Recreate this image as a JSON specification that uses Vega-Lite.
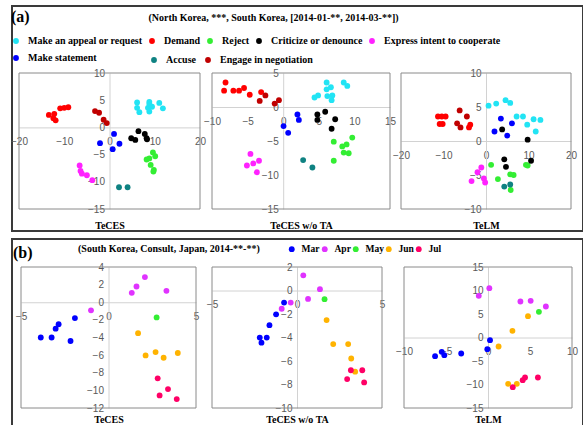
{
  "$schema": "https://vega.github.io/schema/vega-lite/v6.json",
  "background": "white",
  "padding": {"left": 9, "top": 5, "right": 0, "bottom": 0},
  "spacing": 6,
  "resolve": {"scale": {"color": "independent", "fill": "independent"}, "legend": {"color": "independent", "fill": "independent"}},
  "config": {
    "view": {"stroke": "#3a3a3a", "strokeWidth": 2},
    "axis": {
      "grid": false, "ticks": false, "domainColor": "#d2d2d2", "domainWidth": 1,
      "labelFont": "Liberation Sans", "labelFontSize": 10, "labelColor": "#595959",
      "labelFlush": false, "labelOverlap": false,
      "titleFont": "Liberation Serif", "titleFontSize": 10, "titleFontWeight": "bold", "titleColor": "#000000"
    },
    "axisX": {"labelPadding": 9},
    "axisY": {"labelPadding": 5},
    "legend": {
      "labelFont": "Liberation Serif", "labelFontWeight": "bold", "labelFontSize": 10, "labelColor": "#000000",
      "titleFont": "Liberation Serif", "titleFontWeight": "bold", "titleColor": "#000000",
      "symbolType": "circle", "symbolSize": 34, "symbolStrokeWidth": 0, "padding": 0
    },
    "point": {"filled": true, "size": 34, "opacity": 1},
    "rect": {"filled": false, "stroke": "#8a8a8a", "strokeWidth": 1},
    "title": {"font": "Liberation Serif", "fontWeight": "bold", "color": "#000000", "frame": "group"}
  },
  "datasets": {
    "a": [
      {"panel": "TeCES", "cat": "Make an appeal or request", "x": 6.1, "y": 4.6},
      {"panel": "TeCES", "cat": "Make an appeal or request", "x": 6.1, "y": 3.6},
      {"panel": "TeCES", "cat": "Make an appeal or request", "x": 6.6, "y": 2.8},
      {"panel": "TeCES", "cat": "Make an appeal or request", "x": 8.5, "y": 3.6},
      {"panel": "TeCES", "cat": "Make an appeal or request", "x": 8.8, "y": 4.7},
      {"panel": "TeCES", "cat": "Make an appeal or request", "x": 8.8, "y": 4.3},
      {"panel": "TeCES", "cat": "Make an appeal or request", "x": 8.8, "y": 2.9},
      {"panel": "TeCES", "cat": "Make an appeal or request", "x": 9.4, "y": 3.8},
      {"panel": "TeCES", "cat": "Make an appeal or request", "x": 11.0, "y": 4.5},
      {"panel": "TeCES", "cat": "Make an appeal or request", "x": 11.8, "y": 3.5},
      {"panel": "TeCES", "cat": "Demand", "x": -13.4, "y": 2.3},
      {"panel": "TeCES", "cat": "Demand", "x": -12.2, "y": 2.5},
      {"panel": "TeCES", "cat": "Demand", "x": -12.4, "y": 1.7},
      {"panel": "TeCES", "cat": "Demand", "x": -11.9, "y": 1.3},
      {"panel": "TeCES", "cat": "Demand", "x": -10.9, "y": 3.5},
      {"panel": "TeCES", "cat": "Demand", "x": -10.0, "y": 3.6},
      {"panel": "TeCES", "cat": "Demand", "x": -9.1, "y": 3.7},
      {"panel": "TeCES", "cat": "Reject", "x": 9.6, "y": -4.6},
      {"panel": "TeCES", "cat": "Reject", "x": 10.1, "y": -5.3},
      {"panel": "TeCES", "cat": "Reject", "x": 8.8, "y": -5.7},
      {"panel": "TeCES", "cat": "Reject", "x": 8.2, "y": -5.9},
      {"panel": "TeCES", "cat": "Reject", "x": 9.1, "y": -6.9},
      {"panel": "TeCES", "cat": "Reject", "x": 9.8, "y": -7.8},
      {"panel": "TeCES", "cat": "Reject", "x": 9.7, "y": -8.1},
      {"panel": "TeCES", "cat": "Criticize or denounce", "x": 6.4, "y": -0.7},
      {"panel": "TeCES", "cat": "Criticize or denounce", "x": 4.8, "y": -2.0},
      {"panel": "TeCES", "cat": "Criticize or denounce", "x": 5.7, "y": -2.3},
      {"panel": "TeCES", "cat": "Criticize or denounce", "x": 7.8, "y": -1.2},
      {"panel": "TeCES", "cat": "Criticize or denounce", "x": 8.2, "y": -2.0},
      {"panel": "TeCES", "cat": "Criticize or denounce", "x": 8.3, "y": -2.2},
      {"panel": "TeCES", "cat": "Express intent to cooperate", "x": -6.6, "y": -7.0},
      {"panel": "TeCES", "cat": "Express intent to cooperate", "x": -6.4, "y": -8.0},
      {"panel": "TeCES", "cat": "Express intent to cooperate", "x": -6.1, "y": -8.5},
      {"panel": "TeCES", "cat": "Express intent to cooperate", "x": -5.0, "y": -8.8},
      {"panel": "TeCES", "cat": "Express intent to cooperate", "x": -3.8, "y": -9.7},
      {"panel": "TeCES", "cat": "Make statement", "x": 1.0, "y": -1.2},
      {"panel": "TeCES", "cat": "Make statement", "x": -2.1, "y": -2.9},
      {"panel": "TeCES", "cat": "Make statement", "x": 2.2, "y": -3.0},
      {"panel": "TeCES", "cat": "Make statement", "x": 0.7, "y": -4.0},
      {"panel": "TeCES", "cat": "Accuse", "x": 2.1, "y": -11.0},
      {"panel": "TeCES", "cat": "Accuse", "x": 4.0, "y": -11.0},
      {"panel": "TeCES", "cat": "Engage in negotiation", "x": -3.2, "y": 3.0},
      {"panel": "TeCES", "cat": "Engage in negotiation", "x": -2.3, "y": 2.7},
      {"panel": "TeCES", "cat": "Engage in negotiation", "x": -1.3, "y": 1.4},
      {"panel": "TeCES", "cat": "Engage in negotiation", "x": -0.6, "y": 0.8},

      {"panel": "TeCES w/o TA", "cat": "Make an appeal or request", "x": 6.1, "y": 3.6},
      {"panel": "TeCES w/o TA", "cat": "Make an appeal or request", "x": 6.1, "y": 2.6},
      {"panel": "TeCES w/o TA", "cat": "Make an appeal or request", "x": 6.7, "y": 2.9},
      {"panel": "TeCES w/o TA", "cat": "Make an appeal or request", "x": 6.2, "y": 1.6},
      {"panel": "TeCES w/o TA", "cat": "Make an appeal or request", "x": 4.9, "y": 1.7},
      {"panel": "TeCES w/o TA", "cat": "Make an appeal or request", "x": 4.4, "y": 1.4},
      {"panel": "TeCES w/o TA", "cat": "Make an appeal or request", "x": 6.9, "y": 1.7},
      {"panel": "TeCES w/o TA", "cat": "Make an appeal or request", "x": 6.8, "y": 1.0},
      {"panel": "TeCES w/o TA", "cat": "Make an appeal or request", "x": 8.5, "y": 3.6},
      {"panel": "TeCES w/o TA", "cat": "Make an appeal or request", "x": 9.0, "y": 3.1},
      {"panel": "TeCES w/o TA", "cat": "Demand", "x": -8.1, "y": 3.6},
      {"panel": "TeCES w/o TA", "cat": "Demand", "x": -8.3, "y": 2.4},
      {"panel": "TeCES w/o TA", "cat": "Demand", "x": -7.0, "y": 2.4},
      {"panel": "TeCES w/o TA", "cat": "Demand", "x": -6.2, "y": 2.4},
      {"panel": "TeCES w/o TA", "cat": "Demand", "x": -5.5, "y": 2.8},
      {"panel": "TeCES w/o TA", "cat": "Demand", "x": -4.7, "y": 1.8},
      {"panel": "TeCES w/o TA", "cat": "Demand", "x": -3.1, "y": 2.2},
      {"panel": "TeCES w/o TA", "cat": "Reject", "x": 7.1, "y": -5.1},
      {"panel": "TeCES w/o TA", "cat": "Reject", "x": 8.3, "y": -5.8},
      {"panel": "TeCES w/o TA", "cat": "Reject", "x": 8.9, "y": -5.5},
      {"panel": "TeCES w/o TA", "cat": "Reject", "x": 9.7, "y": -4.5},
      {"panel": "TeCES w/o TA", "cat": "Reject", "x": 8.5, "y": -6.7},
      {"panel": "TeCES w/o TA", "cat": "Reject", "x": 9.2, "y": -6.8},
      {"panel": "TeCES w/o TA", "cat": "Reject", "x": 7.1, "y": -7.9},
      {"panel": "TeCES w/o TA", "cat": "Criticize or denounce", "x": 4.8, "y": -1.1},
      {"panel": "TeCES w/o TA", "cat": "Criticize or denounce", "x": 4.8, "y": -1.9},
      {"panel": "TeCES w/o TA", "cat": "Criticize or denounce", "x": 5.9, "y": -0.7},
      {"panel": "TeCES w/o TA", "cat": "Criticize or denounce", "x": 7.3, "y": -1.8},
      {"panel": "TeCES w/o TA", "cat": "Criticize or denounce", "x": 6.8, "y": -3.2},
      {"panel": "TeCES w/o TA", "cat": "Express intent to cooperate", "x": -4.6, "y": -6.9},
      {"panel": "TeCES w/o TA", "cat": "Express intent to cooperate", "x": -5.1, "y": -8.6},
      {"panel": "TeCES w/o TA", "cat": "Express intent to cooperate", "x": -4.2, "y": -8.3},
      {"panel": "TeCES w/o TA", "cat": "Express intent to cooperate", "x": -3.4, "y": -7.9},
      {"panel": "TeCES w/o TA", "cat": "Express intent to cooperate", "x": -3.7, "y": -9.6},
      {"panel": "TeCES w/o TA", "cat": "Make statement", "x": 2.0, "y": -1.1},
      {"panel": "TeCES w/o TA", "cat": "Make statement", "x": 2.2, "y": -1.9},
      {"panel": "TeCES w/o TA", "cat": "Make statement", "x": 0.05, "y": -2.8},
      {"panel": "TeCES w/o TA", "cat": "Make statement", "x": 0.7, "y": -3.8},
      {"panel": "TeCES w/o TA", "cat": "Accuse", "x": 2.8, "y": -7.8},
      {"panel": "TeCES w/o TA", "cat": "Accuse", "x": 4.1, "y": -8.9},
      {"panel": "TeCES w/o TA", "cat": "Engage in negotiation", "x": -2.5, "y": 1.7},
      {"panel": "TeCES w/o TA", "cat": "Engage in negotiation", "x": -3.3, "y": 0.9},
      {"panel": "TeCES w/o TA", "cat": "Engage in negotiation", "x": -1.2, "y": 0.5},
      {"panel": "TeCES w/o TA", "cat": "Engage in negotiation", "x": -0.6, "y": 1.0},

      {"panel": "TeLM", "cat": "Make an appeal or request", "x": 0.6, "y": 5.2},
      {"panel": "TeLM", "cat": "Make an appeal or request", "x": 2.4, "y": 5.5},
      {"panel": "TeLM", "cat": "Make an appeal or request", "x": 4.6, "y": 6.0},
      {"panel": "TeLM", "cat": "Make an appeal or request", "x": 5.7, "y": 5.6},
      {"panel": "TeLM", "cat": "Make an appeal or request", "x": 7.2, "y": 3.6},
      {"panel": "TeLM", "cat": "Make an appeal or request", "x": 8.7, "y": 3.6},
      {"panel": "TeLM", "cat": "Make an appeal or request", "x": 9.7, "y": 2.4},
      {"panel": "TeLM", "cat": "Make an appeal or request", "x": 11.2, "y": 3.2},
      {"panel": "TeLM", "cat": "Make an appeal or request", "x": 12.8, "y": 3.1},
      {"panel": "TeLM", "cat": "Make an appeal or request", "x": 11.7, "y": 1.4},
      {"panel": "TeLM", "cat": "Demand", "x": -11.3, "y": 3.6},
      {"panel": "TeLM", "cat": "Demand", "x": -10.4, "y": 3.6},
      {"panel": "TeLM", "cat": "Demand", "x": -9.5, "y": 3.6},
      {"panel": "TeLM", "cat": "Demand", "x": -10.9, "y": 2.5},
      {"panel": "TeLM", "cat": "Demand", "x": -10.2, "y": 2.5},
      {"panel": "TeLM", "cat": "Demand", "x": -3.7, "y": 2.4},
      {"panel": "TeLM", "cat": "Demand", "x": -4.0, "y": 2.0},
      {"panel": "TeLM", "cat": "Reject", "x": 1.2, "y": -3.5},
      {"panel": "TeLM", "cat": "Reject", "x": 2.8, "y": -5.6},
      {"panel": "TeLM", "cat": "Reject", "x": 5.7, "y": -4.9},
      {"panel": "TeLM", "cat": "Reject", "x": 6.5, "y": -5.0},
      {"panel": "TeLM", "cat": "Reject", "x": 9.4, "y": -3.5},
      {"panel": "TeLM", "cat": "Reject", "x": 9.8, "y": -3.6},
      {"panel": "TeLM", "cat": "Reject", "x": 5.8, "y": -7.2},
      {"panel": "TeLM", "cat": "Criticize or denounce", "x": 3.8, "y": 1.7},
      {"panel": "TeLM", "cat": "Criticize or denounce", "x": 9.8, "y": 0.2},
      {"panel": "TeLM", "cat": "Criticize or denounce", "x": 4.3, "y": -2.7},
      {"panel": "TeLM", "cat": "Criticize or denounce", "x": 4.7, "y": -3.8},
      {"panel": "TeLM", "cat": "Criticize or denounce", "x": 10.6, "y": -2.9},
      {"panel": "TeLM", "cat": "Express intent to cooperate", "x": -1.1, "y": -3.9},
      {"panel": "TeLM", "cat": "Express intent to cooperate", "x": -2.0, "y": -4.6},
      {"panel": "TeLM", "cat": "Express intent to cooperate", "x": -3.4, "y": -5.9},
      {"panel": "TeLM", "cat": "Express intent to cooperate", "x": -0.5, "y": -5.5},
      {"panel": "TeLM", "cat": "Express intent to cooperate", "x": -0.2, "y": -6.1},
      {"panel": "TeLM", "cat": "Make statement", "x": 3.5, "y": 3.3},
      {"panel": "TeLM", "cat": "Make statement", "x": 6.1, "y": 2.6},
      {"panel": "TeLM", "cat": "Make statement", "x": 2.0, "y": 1.4},
      {"panel": "TeLM", "cat": "Make statement", "x": 5.0, "y": 0.8},
      {"panel": "TeLM", "cat": "Accuse", "x": 4.3, "y": -6.7},
      {"panel": "TeLM", "cat": "Accuse", "x": 5.7, "y": -6.4},
      {"panel": "TeLM", "cat": "Engage in negotiation", "x": -6.2, "y": 4.5},
      {"panel": "TeLM", "cat": "Engage in negotiation", "x": -4.5, "y": 3.6},
      {"panel": "TeLM", "cat": "Engage in negotiation", "x": -6.8, "y": 2.6},
      {"panel": "TeLM", "cat": "Engage in negotiation", "x": -6.0, "y": 2.0}
    ],
    "b": [
      {"panel": "TeCES", "month": "Mar", "x": -3.87, "y": -4.0},
      {"panel": "TeCES", "month": "Mar", "x": -3.25, "y": -4.0},
      {"panel": "TeCES", "month": "Mar", "x": -3.02, "y": -3.0},
      {"panel": "TeCES", "month": "Mar", "x": -2.85, "y": -2.5},
      {"panel": "TeCES", "month": "Mar", "x": -2.17, "y": -4.4},
      {"panel": "TeCES", "month": "Mar", "x": -1.92, "y": -1.8},
      {"panel": "TeCES", "month": "Apr", "x": -1.0, "y": -0.92},
      {"panel": "TeCES", "month": "Apr", "x": 1.33, "y": 1.07},
      {"panel": "TeCES", "month": "Apr", "x": 1.6, "y": 1.79},
      {"panel": "TeCES", "month": "Apr", "x": 2.08, "y": 2.86},
      {"panel": "TeCES", "month": "Apr", "x": 3.31, "y": 1.3},
      {"panel": "TeCES", "month": "May", "x": 2.75, "y": -1.72},
      {"panel": "TeCES", "month": "Jun", "x": 1.69, "y": -3.51},
      {"panel": "TeCES", "month": "Jun", "x": 2.12, "y": -6.03},
      {"panel": "TeCES", "month": "Jun", "x": 2.69, "y": -5.65},
      {"panel": "TeCES", "month": "Jun", "x": 3.15, "y": -6.3},
      {"panel": "TeCES", "month": "Jun", "x": 3.96, "y": -5.76},
      {"panel": "TeCES", "month": "Jul", "x": 2.81, "y": -8.63},
      {"panel": "TeCES", "month": "Jul", "x": 2.92, "y": -10.57},
      {"panel": "TeCES", "month": "Jul", "x": 3.4, "y": -9.85},
      {"panel": "TeCES", "month": "Jul", "x": 3.9, "y": -10.99},

      {"panel": "TeCES w/o TA", "month": "Mar", "x": -2.19, "y": -4.01},
      {"panel": "TeCES w/o TA", "month": "Mar", "x": -2.09, "y": -4.44},
      {"panel": "TeCES w/o TA", "month": "Mar", "x": -1.78, "y": -4.01},
      {"panel": "TeCES w/o TA", "month": "Mar", "x": -1.62, "y": -2.95},
      {"panel": "TeCES w/o TA", "month": "Mar", "x": -1.23, "y": -2.03},
      {"panel": "TeCES w/o TA", "month": "Mar", "x": -0.76, "y": -1.03},
      {"panel": "TeCES w/o TA", "month": "Apr", "x": -0.9, "y": -1.55},
      {"panel": "TeCES w/o TA", "month": "Apr", "x": -0.37, "y": -1.03},
      {"panel": "TeCES w/o TA", "month": "Apr", "x": 0.37, "y": 1.29},
      {"panel": "TeCES w/o TA", "month": "Apr", "x": 0.65, "y": -0.72},
      {"panel": "TeCES w/o TA", "month": "Apr", "x": 1.35, "y": 0.11},
      {"panel": "TeCES w/o TA", "month": "May", "x": 1.62, "y": -0.74},
      {"panel": "TeCES w/o TA", "month": "Jun", "x": 1.74, "y": -2.52},
      {"panel": "TeCES w/o TA", "month": "Jun", "x": 2.13, "y": -4.56},
      {"panel": "TeCES w/o TA", "month": "Jun", "x": 3.01, "y": -4.56},
      {"panel": "TeCES w/o TA", "month": "Jun", "x": 3.19, "y": -5.79},
      {"panel": "TeCES w/o TA", "month": "Jun", "x": 3.42, "y": -6.91},
      {"panel": "TeCES w/o TA", "month": "Jul", "x": 3.17, "y": -6.79},
      {"panel": "TeCES w/o TA", "month": "Jul", "x": 3.84, "y": -6.79},
      {"panel": "TeCES w/o TA", "month": "Jul", "x": 2.95, "y": -7.54},
      {"panel": "TeCES w/o TA", "month": "Jul", "x": 3.95, "y": -7.82},

      {"panel": "TeLM", "month": "Mar", "x": -6.3, "y": -3.97},
      {"panel": "TeLM", "month": "Mar", "x": -5.51, "y": -3.05},
      {"panel": "TeLM", "month": "Mar", "x": -5.2, "y": -3.76},
      {"panel": "TeLM", "month": "Mar", "x": -3.19, "y": -3.4},
      {"panel": "TeLM", "month": "Mar", "x": -0.08, "y": -2.48},
      {"panel": "TeLM", "month": "Mar", "x": 0.24, "y": -0.57},
      {"panel": "TeLM", "month": "Apr", "x": -1.1, "y": 8.87},
      {"panel": "TeLM", "month": "Apr", "x": 0.16, "y": 10.5},
      {"panel": "TeLM", "month": "Apr", "x": 3.86, "y": 7.66},
      {"panel": "TeLM", "month": "Apr", "x": 5.08, "y": 7.8},
      {"panel": "TeLM", "month": "Apr", "x": 6.89, "y": 6.6},
      {"panel": "TeLM", "month": "May", "x": 6.06, "y": 5.46},
      {"panel": "TeLM", "month": "Jun", "x": 4.76, "y": 4.54},
      {"panel": "TeLM", "month": "Jun", "x": 2.91, "y": 1.42},
      {"panel": "TeLM", "month": "Jun", "x": 1.26, "y": -1.91},
      {"panel": "TeLM", "month": "Jun", "x": 2.4, "y": -9.86},
      {"panel": "TeLM", "month": "Jun", "x": 3.43, "y": -9.86},
      {"panel": "TeLM", "month": "Jul", "x": 2.95, "y": -10.57},
      {"panel": "TeLM", "month": "Jul", "x": 4.13, "y": -9.08},
      {"panel": "TeLM", "month": "Jul", "x": 4.41, "y": -8.51},
      {"panel": "TeLM", "month": "Jul", "x": 5.94, "y": -8.51}
    ]
  },
  "vconcat": [
    {
      "width": 571,
      "height": 225,
      "title": {"text": "(North Korea, ***,  South Korea, [2014-01-**, 2014-03-**])", "fontSize": 10, "anchor": "middle", "dx": -24, "offset": -17},
      "data": {"name": "a"},
      "resolve": {"scale": {"x": "independent", "y": "independent"}, "axis": {"x": "independent", "y": "independent"}},
      "layer": [
        {
          "data": {"values": [{}]},
          "mark": "rect",
          "encoding": {
            "x": {"datum": -20, "type": "quantitative", "scale": {"domain": [-20, 20], "range": [7, 188], "nice": false, "zero": false}, "axis": null},
            "x2": {"datum": 20},
            "y": {"datum": -15, "type": "quantitative", "scale": {"domain": [-15, 10], "range": [203, 67], "nice": false, "zero": false}, "axis": null},
            "y2": {"datum": 10}
          }
        },
        {
          "transform": [{"filter": {"field": "panel", "equal": "TeCES"}}, {"filter": {"field": "cat", "oneOf": ["Make an appeal or request", "Demand", "Reject", "Criticize or denounce", "Express intent to cooperate", "Make statement"]}}],
          "mark": "point",
          "encoding": {
            "x": {"field": "x", "type": "quantitative", "scale": {"domain": [-20, 20], "range": [7, 188], "nice": false, "zero": false}, "axis": {"orient": "bottom", "values": [-20, -10, 0, 10, 20], "offset": -103.6, "title": "TeCES", "titleY": 92.6}},
            "y": {"field": "y", "type": "quantitative", "scale": {"domain": [-15, 10], "range": [203, 67], "nice": false, "zero": false}, "axis": {"orient": "left", "values": [-15, -10, -5, 0, 5, 10], "offset": -97.5, "title": null}},
            "color": {"field": "cat", "type": "nominal",
              "scale": {"domain": ["Make an appeal or request", "Demand", "Reject", "Criticize or denounce", "Express intent to cooperate", "Make statement"], "range": ["#22e4f4", "#ff0000", "#33ee33", "#000000", "#ff22ff", "#0000ff"]},
              "legend": {"orient": "none", "legendX": -1, "legendY": 3, "direction": "horizontal", "columns": 5, "title": "(a)", "titleFontSize": 16, "titleAnchor": "start", "titlePadding": 11, "symbolOffset": 0, "labelOffset": 7, "columnPadding": 4, "rowPadding": 7}}
          }
        },
        {
          "transform": [{"filter": {"field": "panel", "equal": "TeCES"}}, {"filter": {"field": "cat", "oneOf": ["Accuse", "Engage in negotiation"]}}],
          "mark": "point",
          "encoding": {
            "x": {"field": "x", "type": "quantitative", "scale": {"domain": [-20, 20], "range": [7, 188], "nice": false, "zero": false}, "axis": null},
            "y": {"field": "y", "type": "quantitative", "scale": {"domain": [-15, 10], "range": [203, 67], "nice": false, "zero": false}, "axis": null},
            "fill": {"field": "cat", "type": "nominal",
              "scale": {"domain": ["Accuse", "Engage in negotiation"], "range": ["#0f8282", "#c00000"]},
              "legend": {"orient": "none", "legendX": 137, "legendY": 49, "direction": "horizontal", "title": null, "labelOffset": 7, "columnPadding": 7}}
          }
        },
        {
          "data": {"values": [{}]},
          "mark": "rect",
          "encoding": {
            "x": {"datum": -10, "type": "quantitative", "scale": {"domain": [-10, 15], "range": [200, 378], "nice": false, "zero": false}, "axis": null},
            "x2": {"datum": 15},
            "y": {"datum": -15, "type": "quantitative", "scale": {"domain": [-15, 5], "range": [203, 67], "nice": false, "zero": false}, "axis": null},
            "y2": {"datum": 5}
          }
        },
        {
          "transform": [{"filter": {"field": "panel", "equal": "TeCES w/o TA"}}, {"filter": {"field": "cat", "oneOf": ["Make an appeal or request", "Demand", "Reject", "Criticize or denounce", "Express intent to cooperate", "Make statement"]}}],
          "mark": "point",
          "encoding": {
            "x": {"field": "x", "type": "quantitative", "scale": {"domain": [-10, 15], "range": [200, 378], "nice": false, "zero": false}, "axis": {"orient": "bottom", "values": [-10, -5, 0, 5, 10, 15], "offset": -124, "title": "TeCES w/o TA", "titleY": 113}},
            "y": {"field": "y", "type": "quantitative", "scale": {"domain": [-15, 5], "range": [203, 67], "nice": false, "zero": false}, "axis": {"orient": "left", "values": [-15, -10, -5, 0, 5], "offset": -271.2, "title": null}},
            "color": {"field": "cat", "type": "nominal",
              "scale": {"domain": ["Make an appeal or request", "Demand", "Reject", "Criticize or denounce", "Express intent to cooperate", "Make statement"], "range": ["#22e4f4", "#ff0000", "#33ee33", "#000000", "#ff22ff", "#0000ff"]}}
          }
        },
        {
          "transform": [{"filter": {"field": "panel", "equal": "TeCES w/o TA"}}, {"filter": {"field": "cat", "oneOf": ["Accuse", "Engage in negotiation"]}}],
          "mark": "point",
          "encoding": {
            "x": {"field": "x", "type": "quantitative", "scale": {"domain": [-10, 15], "range": [200, 378], "nice": false, "zero": false}, "axis": null},
            "y": {"field": "y", "type": "quantitative", "scale": {"domain": [-15, 5], "range": [203, 67], "nice": false, "zero": false}, "axis": null},
            "fill": {"field": "cat", "type": "nominal",
              "scale": {"domain": ["Accuse", "Engage in negotiation"], "range": ["#0f8282", "#c00000"]}}
          }
        },
        {
          "data": {"values": [{}]},
          "mark": "rect",
          "encoding": {
            "x": {"datum": -20, "type": "quantitative", "scale": {"domain": [-20, 20], "range": [389, 559], "nice": false, "zero": false}, "axis": null},
            "x2": {"datum": 20},
            "y": {"datum": -10, "type": "quantitative", "scale": {"domain": [-10, 10], "range": [203, 67], "nice": false, "zero": false}, "axis": null},
            "y2": {"datum": 10}
          }
        },
        {
          "transform": [{"filter": {"field": "panel", "equal": "TeLM"}}, {"filter": {"field": "cat", "oneOf": ["Make an appeal or request", "Demand", "Reject", "Criticize or denounce", "Express intent to cooperate", "Make statement"]}}],
          "mark": "point",
          "encoding": {
            "x": {"field": "x", "type": "quantitative", "scale": {"domain": [-20, 20], "range": [389, 559], "nice": false, "zero": false}, "axis": {"orient": "bottom", "values": [-20, -10, 0, 10, 20], "offset": -90, "title": "TeLM", "titleY": 79}},
            "y": {"field": "y", "type": "quantitative", "scale": {"domain": [-10, 10], "range": [203, 67], "nice": false, "zero": false}, "axis": {"orient": "left", "values": [-10, -5, 0, 5, 10], "offset": -474, "title": null}},
            "color": {"field": "cat", "type": "nominal",
              "scale": {"domain": ["Make an appeal or request", "Demand", "Reject", "Criticize or denounce", "Express intent to cooperate", "Make statement"], "range": ["#22e4f4", "#ff0000", "#33ee33", "#000000", "#ff22ff", "#0000ff"]}}
          }
        },
        {
          "transform": [{"filter": {"field": "panel", "equal": "TeLM"}}, {"filter": {"field": "cat", "oneOf": ["Accuse", "Engage in negotiation"]}}],
          "mark": "point",
          "encoding": {
            "x": {"field": "x", "type": "quantitative", "scale": {"domain": [-20, 20], "range": [389, 559], "nice": false, "zero": false}, "axis": null},
            "y": {"field": "y", "type": "quantitative", "scale": {"domain": [-10, 10], "range": [203, 67], "nice": false, "zero": false}, "axis": null},
            "fill": {"field": "cat", "type": "nominal",
              "scale": {"domain": ["Accuse", "Engage in negotiation"], "range": ["#0f8282", "#c00000"]}}
          }
        }
      ]
    },
    {
      "width": 571,
      "height": 188,
      "title": {"text": "(b)", "fontSize": 16, "anchor": "start", "dx": 1, "offset": -22},
      "data": {"name": "b"},
      "resolve": {"scale": {"x": "independent", "y": "independent"}, "axis": {"x": "independent", "y": "independent"}},
      "layer": [
        {
          "data": {"values": [{}]},
          "mark": "rect",
          "encoding": {
            "x": {"datum": -5, "type": "quantitative", "scale": {"domain": [-5, 5], "range": [9, 184], "nice": false, "zero": false}, "axis": null},
            "x2": {"datum": 5},
            "y": {"datum": -12, "type": "quantitative", "scale": {"domain": [-12, 4], "range": [169, 28], "nice": false, "zero": false}, "axis": null},
            "y2": {"datum": 4}
          }
        },
        {
          "transform": [{"filter": {"field": "panel", "equal": "TeCES"}}],
          "mark": "point",
          "encoding": {
            "x": {"field": "x", "type": "quantitative", "scale": {"domain": [-5, 5], "range": [9, 184], "nice": false, "zero": false}, "axis": {"orient": "bottom", "values": [-5, 0, 5], "offset": -124.75, "title": "TeCES", "titleY": 112}},
            "y": {"field": "y", "type": "quantitative", "scale": {"domain": [-12, 4], "range": [169, 28], "nice": false, "zero": false}, "axis": {"orient": "left", "values": [-12, -10, -8, -6, -4, -2, 0, 2, 4], "offset": -96.5, "title": null}},
            "color": {"field": "month", "type": "nominal",
              "scale": {"domain": ["Mar", "Apr", "May", "Jun", "Jul"], "range": ["#0000ff", "#e033ff", "#33ee33", "#ffb300", "#ff0066"]},
              "legend": {"orient": "none", "legendX": 66, "legendY": 5, "direction": "horizontal", "title": "(South Korea, Consult, Japan, 2014-**-**)", "titleOrient": "left", "titleFontSize": 10, "titleLimit": 400, "titlePadding": 27, "labelFontSize": 9.5, "labelOffset": 5, "columnPadding": -4}}
          }
        },
        {
          "data": {"values": [{}]},
          "mark": "rect",
          "encoding": {
            "x": {"datum": -5, "type": "quantitative", "scale": {"domain": [-5, 5], "range": [200, 370], "nice": false, "zero": false}, "axis": null},
            "x2": {"datum": 5},
            "y": {"datum": -10, "type": "quantitative", "scale": {"domain": [-10, 2], "range": [169, 28], "nice": false, "zero": false}, "axis": null},
            "y2": {"datum": 2}
          }
        },
        {
          "transform": [{"filter": {"field": "panel", "equal": "TeCES w/o TA"}}],
          "mark": "point",
          "encoding": {
            "x": {"field": "x", "type": "quantitative", "scale": {"domain": [-5, 5], "range": [200, 370], "nice": false, "zero": false}, "axis": {"orient": "bottom", "values": [-5, 0, 5], "offset": -136.5, "title": "TeCES w/o TA", "titleY": 124}},
            "y": {"field": "y", "type": "quantitative", "scale": {"domain": [-10, 2], "range": [169, 28], "nice": false, "zero": false}, "axis": {"orient": "left", "values": [-10, -8, -6, -4, -2, 0, 2], "offset": -285, "title": null}},
            "color": {"field": "month", "type": "nominal",
              "scale": {"domain": ["Mar", "Apr", "May", "Jun", "Jul"], "range": ["#0000ff", "#e033ff", "#33ee33", "#ffb300", "#ff0066"]}}
          }
        },
        {
          "data": {"values": [{}]},
          "mark": "rect",
          "encoding": {
            "x": {"datum": -10, "type": "quantitative", "scale": {"domain": [-10, 10], "range": [392, 560], "nice": false, "zero": false}, "axis": null},
            "x2": {"datum": 10},
            "y": {"datum": -15, "type": "quantitative", "scale": {"domain": [-15, 15], "range": [169, 28], "nice": false, "zero": false}, "axis": null},
            "y2": {"datum": 15}
          }
        },
        {
          "transform": [{"filter": {"field": "panel", "equal": "TeLM"}}],
          "mark": "point",
          "encoding": {
            "x": {"field": "x", "type": "quantitative", "scale": {"domain": [-10, 10], "range": [392, 560], "nice": false, "zero": false}, "axis": {"orient": "bottom", "values": [-10, -5, 0, 5, 10], "offset": -89.5, "title": "TeLM", "titleY": 77}},
            "y": {"field": "y", "type": "quantitative", "scale": {"domain": [-15, 15], "range": [169, 28], "nice": false, "zero": false}, "axis": {"orient": "left", "values": [-15, -10, -5, 0, 5, 10, 15], "offset": -476, "title": null}},
            "color": {"field": "month", "type": "nominal",
              "scale": {"domain": ["Mar", "Apr", "May", "Jun", "Jul"], "range": ["#0000ff", "#e033ff", "#33ee33", "#ffb300", "#ff0066"]}}
          }
        }
      ]
    }
  ]
}
